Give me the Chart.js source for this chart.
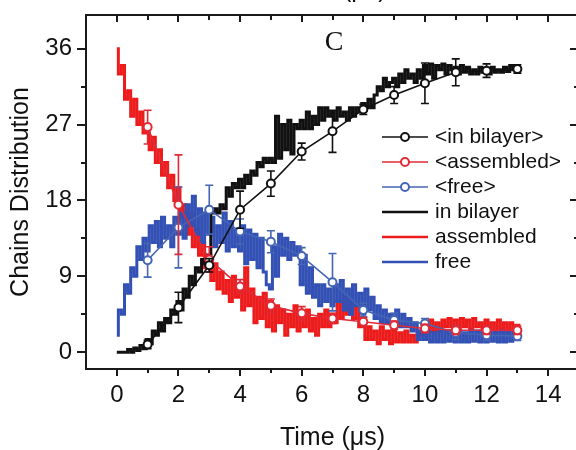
<!DOCTYPE html>
<html lang="en">
<head>
<meta charset="UTF-8">
<title>Chains Distribution</title>
<script src="https://cdn.jsdelivr.net/npm/chart.js@4.4.0/dist/chart.umd.min.js"></script>
<style>
    html, body { margin: 0; padding: 0; background: #fff; overflow: hidden; }
    .wrap { position: relative; width: 590px; height: 450px; }
</style>
</head>
<body>
<div class="wrap"><canvas id="chart" width="590" height="450"></canvas></div>
<script>
// averaged values (circles) at each microsecond
const avgTime = [1, 2, 3, 4, 5, 6, 7, 8, 9, 10, 11, 12, 13];
const avgInBilayer = [0.9, 5.3, 10.3, 16.9, 20.0, 23.8, 26.2, 28.8, 30.5, 31.9, 33.2, 33.4, 33.6];
const errInBilayer = [0.5, 1.8, 0.8, 2.2, 1.5, 1.0, 2.5, 0.6, 1.0, 2.4, 1.6, 0.8, 0.5];
const avgAssembled = [26.7, 17.5, 11.0, 7.8, 5.5, 4.6, 4.0, 3.6, 3.2, 2.8, 2.6, 2.6, 2.6];
const errAssembled = [2.0, 5.9, 1.5, 0.8, 0.8, 0.8, 0.6, 0.5, 0.5, 0.5, 0.5, 0.5, 0.5];
const avgFree = [10.9, 14.8, 16.9, 14.3, 13.1, 11.4, 8.3, 5.0, 3.8, 3.4, 2.3, 2.0, 1.9];
const errFree = [2.0, 4.8, 2.9, 1.5, 1.3, 1.0, 3.4, 0.8, 0.8, 0.6, 0.8, 0.6, 0.5];

// single trajectory, sampled every 0.1 us from t = 0
const rawStart = 0;
const rawStep = 0.1;
const rawInBilayer = [
    0, 0, 0, 0, 0.3, 0, 0.5, 0.2, 0.8, 0.4,
    1.5, 1, 2.5, 2, 3.5, 2.5, 4, 3.5, 5, 4.5,
    6, 5, 7.5, 6.5, 9, 8, 10, 9.5, 11, 10.5,
    11.5, 16.5, 17, 16.5, 17.5, 17, 19.5, 18.5, 20, 19.5,
    20.5, 19.5, 21, 20, 21.5, 21, 22.5, 22, 23, 22.5,
    23, 22.5, 28, 23, 27, 24, 27.5, 23.5, 27, 26.5,
    27.5, 26.5, 28.5, 26.5, 28, 27, 29, 27.5, 29, 28,
    28.5, 27.5, 29, 28, 28.5, 27.5, 29, 28, 29, 28.5,
    29.5, 29, 30, 29, 30.5, 31.5, 31, 32.5, 31.5, 32,
    32.5, 31.5, 33, 32, 33.5, 32.5, 33, 32, 33.5, 32.5,
    34, 33, 34.2, 32.5, 34, 33.5, 34.2, 33, 34, 33.5,
    33.8, 33, 34, 33.2, 33.8, 33, 33.5, 33, 33.8, 33.2,
    33.5, 33, 33.8, 33.2, 33.5, 33.2, 33.8, 33.3, 34, 33.5,
    33.8, 33.5
];
const rawAssembled = [
    36, 33, 34, 30, 31, 28, 30, 27, 28.5, 26,
    27, 24, 25.5, 22.5, 24, 21, 22.5, 19.5, 21, 18,
    19.5, 16, 17.5, 14, 16.5, 12.5, 14.5, 11.5, 13, 10,
    11.5, 8.5, 10.5, 7.5, 9.5, 7, 8.5, 6, 9, 6.5,
    8, 5, 10, 5.5, 7.5, 3.5, 6.5, 4, 7, 3,
    6, 2.5, 5.5, 3.5, 5, 2, 4.5, 3, 5.5, 2.5,
    4.5, 3, 5, 2.5, 4, 2, 4.5, 3, 5, 3,
    4.5, 3.5, 6, 4, 6.5, 4.5, 6, 4, 5.5, 3,
    3.5, 1.5, 3, 1.5, 2.5, 1, 3, 1.5, 2.5, 1,
    2.5, 1.2, 2.3, 1.2, 2.5, 1.2, 2, 1.2, 2.5, 2,
    3.5, 2.5, 3.8, 2.5, 3.5, 2.5, 3.8, 3, 4, 3,
    3.8, 2.7, 4, 3, 3.8, 2.7, 4, 3, 3.5, 2.5,
    3.8, 2.7, 3.5, 2.5, 3.8, 2.7, 3.5, 2.5, 3.5, 2.7,
    3.2, 2.8
];
const rawFree = [
    2, 5, 4.5, 8, 7, 10, 9, 12.5, 11, 13.5,
    12, 15, 13, 15.5, 12.5, 16, 13.5, 15, 12.5, 16,
    14, 16.5, 13.5, 17.5, 15, 18.5, 14, 17, 13, 16.5,
    14, 16, 12.5, 15, 13, 16.5, 12, 15.5, 12.5, 14.5,
    12, 15, 10.5, 14.5, 11, 14, 10, 13.5, 9.5, 8,
    7.5, 12.5, 9, 14, 11.5, 13.5, 11, 13, 11.5, 12.5,
    8, 11.5, 7, 10, 6.5, 8, 5.5, 8, 6, 7.5,
    5.5, 8, 6, 8.5, 5, 7.5, 4.5, 8, 5.5, 7,
    4.5, 7.5, 5, 6.5, 4, 5.5, 3.5, 5, 3.5, 4.5,
    3.5, 5, 3, 4.5, 3, 4, 2.5, 3.5, 1.5, 2.5,
    1.5, 2.5, 1.2, 2.3, 1.2, 2.5, 1.2, 2.5, 1.3, 2.5,
    1.2, 2.5, 1.2, 2.3, 1.2, 2.5, 1.3, 2.5, 1.2, 2.3,
    1.2, 2.5, 1.3, 2.3, 1.2, 2.5, 1.2, 2.3, 1.3, 2.5,
    1.5, 2.2
];

const xTicks = [0, 2, 4, 6, 8, 10, 12, 14];
const xMinorTicks = [1, 3, 5, 7, 9, 11, 13];
const yTicks = [0, 9, 18, 27, 36];
const yMinorTicks = [4.5, 13.5, 22.5, 31.5];

const BLACK = '#111111';
const RED = '#ec1c1c';
const BLUE = '#3350b4';
const AVG_RED = '#e02a36';
const AVG_BLUE = '#4565b5';
const FONT = "'Liberation Sans', Arial, sans-serif";

function avgPoints(vals) {
    return avgTime.map((t, i) => ({ x: t, y: vals[i] }));
}
function rawPoints(vals) {
    return vals.map((v, i) => ({ x: +(rawStart + i * rawStep).toFixed(2), y: v }));
}

function rawSet(label, vals, color, order) {
    return {
        label: label, data: rawPoints(vals), borderColor: color, borderWidth: 3,
        stepped: 'middle', pointRadius: 0, fill: false, order: order
    };
}
function avgSet(label, vals, errs, color, order) {
    return {
        label: label, data: avgPoints(vals), errors: errs, borderColor: color, borderWidth: 1.6,
        pointRadius: 4, pointBorderWidth: 2, pointBackgroundColor: '#fff', pointBorderColor: color,
        fill: false, tension: 0, order: order, withMarker: true
    };
}

// error bars go under the circles of their own series
const errorBars = {
    id: 'errorBars',
    beforeDatasetDraw(chart, args) {
        const ds = chart.data.datasets[args.index];
        if (!ds.errors) return;
        const xs = chart.scales.x, ys = chart.scales.y, ctx = chart.ctx;
        ctx.save();
        ctx.strokeStyle = ds.borderColor;
        ctx.lineWidth = 1.6;
        ds.data.forEach((p, i) => {
            const px = xs.getPixelForValue(p.x);
            const top = ys.getPixelForValue(p.y + ds.errors[i]);
            const bot = ys.getPixelForValue(p.y - ds.errors[i]);
            ctx.beginPath();
            ctx.moveTo(px, top); ctx.lineTo(px, bot);
            ctx.moveTo(px - 4, top); ctx.lineTo(px + 4, top);
            ctx.moveTo(px - 4, bot); ctx.lineTo(px + 4, bot);
            ctx.stroke();
        });
        ctx.restore();
    }
};

// box with ticks on all four sides, panel letter and legend
const frame = {
    id: 'frame',
    afterDraw(chart) {
        const { ctx, chartArea: a } = chart;
        const xs = chart.scales.x, ys = chart.scales.y;
        ctx.save();
        ctx.strokeStyle = '#1a1a1a';
        ctx.lineWidth = 2;
        ctx.strokeRect(a.left, a.top, a.right - a.left, a.bottom - a.top);
        ctx.beginPath();
        const xt = (vals, major) => vals.forEach(v => {
            const px = Math.round(xs.getPixelForValue(v));
            ctx.moveTo(px, a.bottom); ctx.lineTo(px, a.bottom + (major ? 7 : 4));
            ctx.moveTo(px, a.top); ctx.lineTo(px, a.top + (major ? 7 : 5));
        });
        const yt = (vals, major) => vals.forEach(v => {
            const py = Math.round(ys.getPixelForValue(v));
            ctx.moveTo(a.left, py); ctx.lineTo(a.left - (major ? 9 : 5), py);
            ctx.moveTo(a.right, py); ctx.lineTo(a.right - (major ? 9 : 5), py);
        });
        xt(xTicks, true); xt(xMinorTicks, false);
        yt(yTicks, true); yt(yMinorTicks, false);
        ctx.stroke();

        ctx.fillStyle = '#111';
        ctx.textAlign = 'center';
        ctx.textBaseline = 'middle';
        ctx.font = "28px 'Liberation Serif', 'Times New Roman', serif";
        ctx.fillText('C', 334, 43);
        ctx.font = '25px ' + FONT;
        ctx.fillText('Time (\u03bcs)', 334, -10);

        // legend
        const order = [5, 4, 3, 0, 1, 2];
        ctx.font = '21px ' + FONT;
        ctx.textAlign = 'left';
        order.forEach((idx, row) => {
            const ds = chart.data.datasets[idx];
            const y = 137 + row * 25;
            ctx.strokeStyle = ds.borderColor;
            ctx.lineWidth = ds.withMarker ? 1.6 : 2.5;
            ctx.beginPath(); ctx.moveTo(382, y); ctx.lineTo(428, y); ctx.stroke();
            if (ds.withMarker) {
                ctx.beginPath(); ctx.arc(405, y, 4, 0, Math.PI * 2);
                ctx.fillStyle = '#fff'; ctx.fill();
                ctx.lineWidth = 2; ctx.stroke();
            }
            ctx.fillStyle = '#111';
            ctx.fillText(ds.label, 435, y);
        });
        ctx.restore();
    }
};

new Chart(document.getElementById('chart'), {
    type: 'line',
    data: {
        datasets: [
            rawSet('in bilayer', rawInBilayer, BLACK, 4),
            rawSet('assembled', rawAssembled, RED, 6),
            rawSet('free', rawFree, BLUE, 5),
            avgSet('<free>', avgFree, errFree, AVG_BLUE, 3),
            avgSet('<assembled>', avgAssembled, errAssembled, AVG_RED, 2),
            avgSet('<in bilayer>', avgInBilayer, errInBilayer, BLACK, 1)
        ]
    },
    options: {
        responsive: false,
        animation: false,
        layout: { padding: { top: 15, right: 11, left: 0, bottom: 0 } },
        plugins: { legend: { display: false }, tooltip: { enabled: false } },
        scales: {
            x: {
                type: 'linear', min: -1, max: 15,
                grid: { display: false, drawTicks: false },
                border: { display: false },
                afterBuildTicks: s => { s.ticks = xTicks.map(v => ({ value: v })); },
                afterFit: s => { s.height = 81; s.paddingLeft = 0; s.paddingRight = 0; },
                ticks: { color: '#111', font: { family: FONT, size: 24 }, padding: 12, maxRotation: 0 },
                title: { display: true, text: 'Time (\u03bcs)', color: '#111',
                    font: { family: FONT, size: 25, lineHeight: 1 }, padding: { top: 0, bottom: -1 } }
            },
            y: {
                type: 'linear', min: -2, max: 40,
                grid: { display: false, drawTicks: false },
                border: { display: false },
                afterBuildTicks: s => { s.ticks = yTicks.map(v => ({ value: v })); },
                afterFit: s => { s.width = 86; s.paddingTop = 0; s.paddingBottom = 0; },
                ticks: { color: '#111', font: { family: FONT, size: 24 }, padding: 14 },
                title: { display: true, text: 'Chains Distribution', color: '#111',
                    font: { family: FONT, size: 25, lineHeight: 1 }, padding: { top: 9, bottom: 0 } }
            }
        }
    },
    plugins: [errorBars, frame]
});
</script>
</body>
</html>
